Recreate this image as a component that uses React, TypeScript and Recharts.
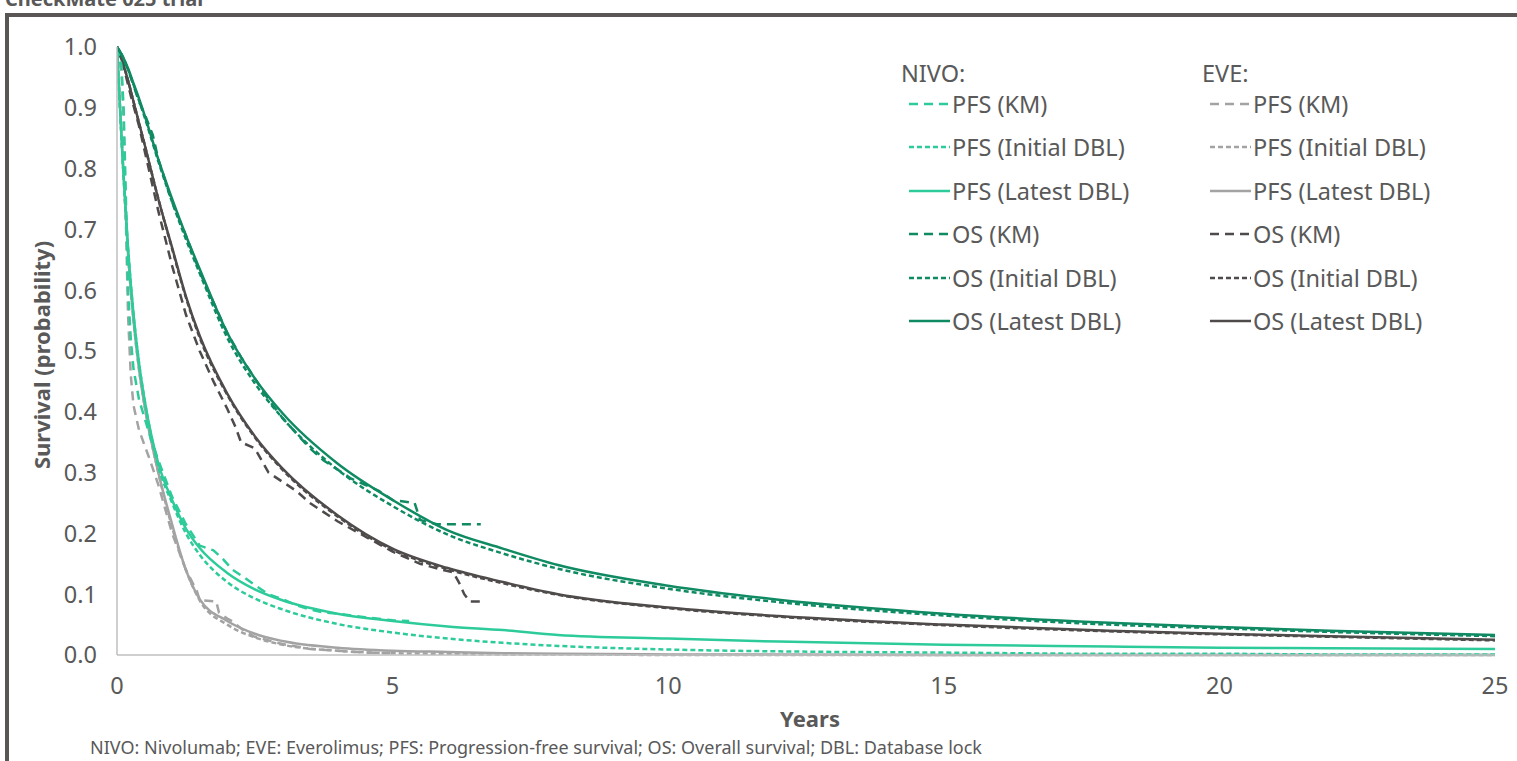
import React from "react";
import { LineChart, Line, XAxis, YAxis } from "recharts";

// time points (years) for the fitted curves
const fitYears = [0, 0.1, 0.2, 0.3, 0.4, 0.5, 0.75, 1, 1.25, 1.5, 2, 2.5, 3, 4, 5, 6, 7, 8, 10, 12, 15, 18, 20, 22, 25];

// NIVO fits
const nivoPfsInitial = [1, 0.82, 0.67, 0.56, 0.48, 0.42, 0.31, 0.25, 0.2, 0.165, 0.12, 0.093, 0.075, 0.051, 0.037, 0.027, 0.02, 0.015, 0.009, 0.006, 0.004, 0.002, 0.002, 0.001, 0.001];
const nivoPfsLatest = [1, 0.82, 0.67, 0.56, 0.48, 0.42, 0.315, 0.255, 0.208, 0.176, 0.135, 0.108, 0.09, 0.068, 0.056, 0.047, 0.041, 0.033, 0.027, 0.022, 0.017, 0.014, 0.012, 0.011, 0.01];
const nivoOsInitial = [1, 0.985, 0.963, 0.938, 0.912, 0.885, 0.812, 0.745, 0.684, 0.628, 0.522, 0.447, 0.39, 0.305, 0.245, 0.198, 0.167, 0.142, 0.109, 0.087, 0.065, 0.05, 0.044, 0.038, 0.031];
const nivoOsLatest = [1, 0.985, 0.965, 0.94, 0.915, 0.888, 0.815, 0.75, 0.69, 0.635, 0.53, 0.455, 0.398, 0.315, 0.255, 0.205, 0.175, 0.148, 0.114, 0.091, 0.068, 0.053, 0.046, 0.04, 0.033];

// EVE fits
const evePfsInitial = [1, 0.82, 0.66, 0.55, 0.47, 0.41, 0.3, 0.21, 0.14, 0.09, 0.05, 0.029, 0.017, 0.007, 0.003, 0.002, 0.001, 0.001, 0, 0, 0, 0, 0, 0, 0];
const evePfsLatest = [1, 0.82, 0.66, 0.55, 0.47, 0.41, 0.3, 0.215, 0.14, 0.092, 0.056, 0.035, 0.023, 0.012, 0.007, 0.005, 0.003, 0.002, 0.001, 0.001, 0, 0, 0, 0, 0];
const eveOsInitial = [1, 0.975, 0.945, 0.91, 0.875, 0.84, 0.75, 0.668, 0.588, 0.522, 0.428, 0.358, 0.305, 0.228, 0.173, 0.141, 0.118, 0.099, 0.077, 0.063, 0.049, 0.039, 0.034, 0.03, 0.024];
const eveOsLatest = [1, 0.975, 0.945, 0.91, 0.875, 0.84, 0.75, 0.67, 0.59, 0.525, 0.43, 0.36, 0.307, 0.23, 0.175, 0.143, 0.12, 0.1, 0.078, 0.064, 0.05, 0.04, 0.035, 0.031, 0.025];

// Kaplan-Meier data
const nivoPfsKmYears = [0, 0.08, 0.12, 0.17, 0.2, 0.25, 0.3, 0.4, 0.5, 0.6, 0.75, 1, 1.25, 1.5, 1.75, 1.9, 2.1, 2.3, 2.5, 2.75, 3, 3.25, 3.5, 3.75, 4, 4.5, 5, 5.3];
const nivoPfsKm = [1, 0.97, 0.9, 0.72, 0.6, 0.52, 0.47, 0.42, 0.39, 0.36, 0.32, 0.26, 0.215, 0.18, 0.172, 0.16, 0.14, 0.128, 0.115, 0.1, 0.092, 0.082, 0.075, 0.07, 0.068, 0.062, 0.057, 0.056];
const evePfsKmYears = [0, 0.08, 0.12, 0.17, 0.2, 0.25, 0.3, 0.4, 0.5, 0.6, 0.75, 1, 1.25, 1.45, 1.5, 1.8, 1.85, 2, 2.1, 2.3, 2.5, 3, 3.5, 4, 4.5, 5];
const evePfsKm = [1, 0.96, 0.88, 0.68, 0.56, 0.46, 0.41, 0.37, 0.345, 0.32, 0.28, 0.2, 0.14, 0.105, 0.09, 0.088, 0.07, 0.06, 0.055, 0.04, 0.03, 0.018, 0.01, 0.007, 0.004, 0.003];
const nivoOsKmYears = [0, 0.1, 0.25, 0.4, 0.5, 0.65, 0.75, 1, 1.25, 1.5, 1.75, 2, 2.25, 2.5, 2.75, 3, 3.25, 3.5, 3.75, 4, 4.25, 4.5, 4.75, 5, 5.4, 5.5, 5.8, 6, 6.3, 6.6];
const nivoOsKm = [1, 0.985, 0.95, 0.91, 0.89, 0.855, 0.815, 0.745, 0.69, 0.63, 0.58, 0.53, 0.49, 0.455, 0.42, 0.39, 0.365, 0.34, 0.32, 0.305, 0.29, 0.28, 0.27, 0.255, 0.25, 0.222, 0.215, 0.215, 0.215, 0.215];
const eveOsKmYears = [0, 0.1, 0.25, 0.4, 0.5, 0.6, 0.75, 1, 1.25, 1.5, 1.75, 2, 2.15, 2.25, 2.5, 2.75, 3, 3.25, 3.5, 3.75, 4, 4.5, 5, 5.5, 5.9, 6.1, 6.2, 6.3, 6.4, 6.65];
const eveOsKm = [1, 0.975, 0.92, 0.87, 0.83, 0.79, 0.73, 0.64, 0.56, 0.5, 0.45, 0.405, 0.375, 0.35, 0.34, 0.3, 0.285, 0.27, 0.25, 0.235, 0.22, 0.195, 0.17, 0.15, 0.14, 0.136, 0.12, 0.1, 0.088, 0.088];

const xTicks = [0, 5, 10, 15, 20, 25];
const yTicks = [0, 0.1, 0.2, 0.3, 0.4, 0.5, 0.6, 0.7, 0.8, 0.9, 1];
const itemLabels = ["PFS (KM)", "PFS (Initial DBL)", "PFS (Latest DBL)", "OS (KM)", "OS (Initial DBL)", "OS (Latest DBL)"];

const TEAL = "#2ECB9A";
const GREEN = "#0F8A63";
const LIGHT_GREY = "#A3A3A3";
const DARK_GREY = "#4F4B4B";
const TEXT = "#595959";
const FONT = "'Noto Sans', sans-serif";

const KM_DASH = "9 6";
const INIT_DASH = "5 3";

const pts = (years: number[], values: number[]) => years.map((t, i) => ({ t, v: values[i] }));

const nivoSeries = [
  { key: "nivoPfsKm", data: pts(nivoPfsKmYears, nivoPfsKm), color: TEAL, dash: KM_DASH, curve: "linear" },
  { key: "nivoPfsInit", data: pts(fitYears, nivoPfsInitial), color: TEAL, dash: INIT_DASH, curve: "monotone" },
  { key: "nivoPfsLatest", data: pts(fitYears, nivoPfsLatest), color: TEAL, dash: undefined, curve: "monotone" },
  { key: "nivoOsKm", data: pts(nivoOsKmYears, nivoOsKm), color: GREEN, dash: KM_DASH, curve: "linear" },
  { key: "nivoOsInit", data: pts(fitYears, nivoOsInitial), color: GREEN, dash: INIT_DASH, curve: "monotone" },
  { key: "nivoOsLatest", data: pts(fitYears, nivoOsLatest), color: GREEN, dash: undefined, curve: "monotone" },
];
const eveSeries = [
  { key: "evePfsKm", data: pts(evePfsKmYears, evePfsKm), color: LIGHT_GREY, dash: KM_DASH, curve: "linear" },
  { key: "evePfsInit", data: pts(fitYears, evePfsInitial), color: LIGHT_GREY, dash: INIT_DASH, curve: "monotone" },
  { key: "evePfsLatest", data: pts(fitYears, evePfsLatest), color: LIGHT_GREY, dash: undefined, curve: "monotone" },
  { key: "eveOsKm", data: pts(eveOsKmYears, eveOsKm), color: DARK_GREY, dash: KM_DASH, curve: "linear" },
  { key: "eveOsInit", data: pts(fitYears, eveOsInitial), color: DARK_GREY, dash: INIT_DASH, curve: "monotone" },
  { key: "eveOsLatest", data: pts(fitYears, eveOsLatest), color: DARK_GREY, dash: undefined, curve: "monotone" },
];

const LegendColumn = ({ title, left, series }: { title: string; left: number; series: typeof nivoSeries }) => (
  <>
    <div style={{ position: "absolute", left, top: 73 - 14, height: 28, lineHeight: "28px", fontFamily: FONT, fontSize: 23.5, color: TEXT }}>
      {title}
    </div>
    {series.map((s, i) => (
      <div
        key={s.key}
        style={{ position: "absolute", left: left + 8, top: 104 + i * 43.4 - 14, height: 28, display: "flex", alignItems: "center", whiteSpace: "nowrap", fontFamily: FONT, fontSize: 23.5, color: TEXT }}
      >
        <svg width={41} height={10} style={{ marginRight: 2 }}>
          <line x1={0} y1={5} x2={41} y2={5} stroke={s.color} strokeWidth={2.5} strokeDasharray={s.dash} />
        </svg>
        <span style={{ lineHeight: "28px" }}>{itemLabels[i]}</span>
      </div>
    ))}
  </>
);

export default function App() {
  const all = [...eveSeries, ...nivoSeries];
  return (
    <div style={{ position: "absolute", left: 0, top: 0, width: 1517, height: 761, overflow: "hidden", background: "#fff" }}>
      <div style={{ position: "absolute", left: 5, top: -11, fontFamily: FONT, fontWeight: 700, fontSize: 20, lineHeight: "20px", color: TEXT, whiteSpace: "nowrap" }}>
        CheckMate 025 trial
      </div>
      <div style={{ position: "absolute", left: 5, top: 13, width: 1700, height: 900, border: "4px solid #5B5656", boxSizing: "border-box" }} />
      <div style={{ position: "absolute", left: 0, top: 0 }}>
        <LineChart width={1517} height={761} margin={{ top: 47, right: 22, bottom: 66, left: 0 }}>
          <XAxis
            type="number"
            dataKey="t"
            domain={[0, 25]}
            ticks={xTicks}
            allowDataOverflow
            height={40}
            tickLine={false}
            tickSize={0}
            tickMargin={22}
            axisLine={{ stroke: "#BFBFBF", strokeWidth: 1.5 }}
            tick={{ fill: TEXT, fontSize: 23.5, fontFamily: FONT }}
          />
          <YAxis
            type="number"
            dataKey="v"
            domain={[0, 1]}
            ticks={yTicks}
            width={117}
            tickLine={false}
            tickSize={0}
            tickMargin={20}
            axisLine={{ stroke: "#BFBFBF", strokeWidth: 1.5 }}
            tickFormatter={(v: number) => v.toFixed(1)}
            tick={{ fill: TEXT, fontSize: 23.5, fontFamily: FONT }}
          />
          {all.map((s) => (
            <Line
              key={s.key}
              data={s.data}
              dataKey="v"
              type={s.curve as "linear" | "monotone"}
              stroke={s.color}
              strokeWidth={2.5}
              strokeDasharray={s.dash}
              dot={false}
              activeDot={false}
              isAnimationActive={false}
            />
          ))}
        </LineChart>
      </div>
      <LegendColumn title="NIVO:" left={901} series={nivoSeries} />
      <LegendColumn title="EVE:" left={1202} series={eveSeries} />
      <div style={{ position: "absolute", left: 41, top: 355, transform: "translate(-50%, -50%) rotate(-90deg)", fontFamily: FONT, fontWeight: 700, fontSize: 22, color: TEXT, whiteSpace: "nowrap" }}>
        Survival (probability)
      </div>
      <div style={{ position: "absolute", left: 810, top: 718, transform: "translate(-50%, -50%)", fontFamily: FONT, fontWeight: 700, fontSize: 22, color: TEXT }}>
        Years
      </div>
      <div style={{ position: "absolute", left: 90, top: 747, transform: "translateY(-50%)", fontFamily: FONT, fontSize: 18, color: TEXT, whiteSpace: "nowrap" }}>
        NIVO: Nivolumab; EVE: Everolimus; PFS: Progression-free survival; OS: Overall survival; DBL: Database lock
      </div>
    </div>
  );
}
